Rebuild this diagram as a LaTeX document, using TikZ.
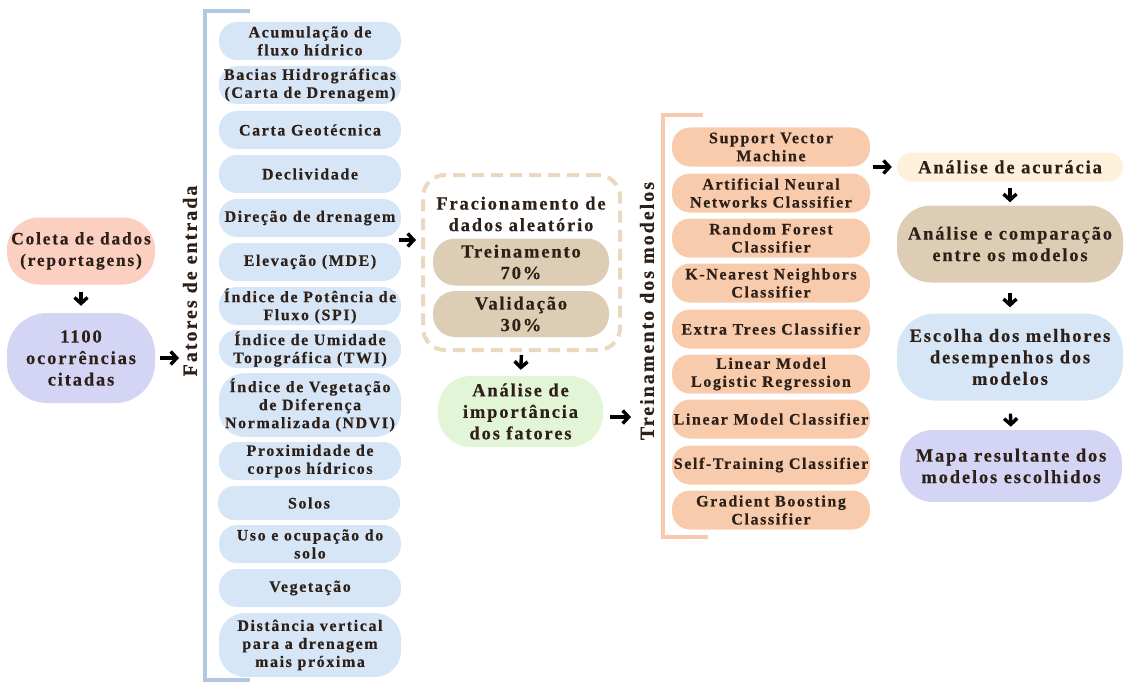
\documentclass[tikz,border=0pt]{standalone}
\usepackage{fontspec}
\setmainfont{Liberation Serif}[LetterSpace=10,BoldFeatures={FakeBold=0.4}]
\usetikzlibrary{arrows.meta}

\definecolor{ink}{RGB}{45,32,24}
\definecolor{salmon}{RGB}{251,208,193}
\definecolor{lavender}{RGB}{212,212,245}
\definecolor{skyfill}{RGB}{214,230,246}
\definecolor{skyline}{RGB}{180,199,224}
\definecolor{tanline}{RGB}{234,216,192}
\definecolor{tanfill}{RGB}{221,205,180}
\definecolor{mint}{RGB}{227,245,215}
\definecolor{peach}{RGB}{248,203,173}
\definecolor{peachline}{RGB}{248,202,172}
\definecolor{cream}{RGB}{253,241,220}

\begin{document}
\begin{tikzpicture}[x=1pt,y=-1pt,
  pill/.style={draw=none,align=center,inner sep=0pt,text=ink,
    font=\bfseries\fontsize{16}{18}\selectfont},
  bigpill/.style={pill,font=\bfseries\fontsize{18.5}{21.5}\selectfont},
  factor/.style={pill,fill=skyfill,minimum width=182,minimum height=38,rounded corners=18},
  model/.style={pill,fill=peach,minimum width=198,minimum height=39,rounded corners=18},
  label/.style={text=ink,font=\bfseries\fontsize{20}{22}\selectfont,rotate=90},
  arr/.style={draw=black,line width=3.4pt,-{Straight Barb[length=6pt,width=13pt]}},
  bracket/.style={line width=4pt}
]
\useasboundingbox (0,0) rectangle (1124,682);

% data collection column
\node[bigpill,font=\bfseries\fontsize{17.5}{21.5}\selectfont,fill=salmon,
  minimum width=148,minimum height=67,rounded corners=32] (coleta) at (81,251)
  {Coleta de dados\\(reportagens)};
\node[bigpill,fill=lavender,minimum width=148,minimum height=90,rounded corners=40] (occ) at (81,358)
  {1100\\ocorrências\\citadas};

% input factors
\draw[bracket,skyline] (250,11) -- (205,11) -- (205,680) -- (250,680);
\node[label] (fatores) at (190,281) {Fatores de entrada};
\coordinate (facin) at (179,358);
\node[factor] (f1) at (310,41) {Acumulação de\\fluxo hídrico};
\node[factor] (f2) at (310,85) {Bacias Hidrográficas\\(Carta de Drenagem)};
\node[factor] (f3) at (310,130) {Carta Geotécnica};
\node[factor] (f4) at (310,174) {Declividade};
\node[factor] (f5) at (310,218) {Direção de drenagem};
\node[factor] (f6) at (310,262) {Elevação (MDE)};
\node[factor] (f7) at (310,306) {Índice de Potência de\\Fluxo (SPI)};
\node[factor] (f8) at (310,349) {Índice de Umidade\\Topográfica (TWI)};
\node[factor,minimum height=64,rounded corners=26] (f9) at (310,405)
  {Índice de Vegetação\\de Diferença\\Normalizada (NDVI)};
\node[factor] (f10) at (310,461) {Proximidade de\\corpos hídricos};
\node[factor,minimum height=34,rounded corners=16] (f11) at (309,503) {Solos};
\node[factor] (f12) at (310,544) {Uso e ocupação do\\solo};
\node[factor] (f13) at (310,588) {Vegetação};
\node[factor,minimum height=64,rounded corners=26] (f14) at (310,645)
  {Distância vertical\\para a drenagem\\mais próxima};
\coordinate (facout) at (399,240);

% random split
\node[draw=tanline,line width=4pt,dash pattern=on 12pt off 7pt,rounded corners=22,
  minimum width=197,minimum height=175] (frac) at (521.5,262.5) {};
\node[bigpill] (fractitle) at (521,214) {Fracionamento de\\dados aleatório};
\node[bigpill,fill=tanfill,minimum width=176,minimum height=47,rounded corners=22] (train) at (521,262)
  {Treinamento\\70\%};
\node[bigpill,fill=tanfill,minimum width=176,minimum height=46,rounded corners=22] (valid) at (521,314)
  {Validação\\30\%};
\node[bigpill,fill=mint,minimum width=165,minimum height=71,rounded corners=33] (imp) at (520.5,411.5)
  {Análise de\\importância\\dos fatores};
\coordinate (tmin) at (631,417);

% model training
\draw[bracket,peachline] (703,115) -- (663,115) -- (663,537) -- (708,537);
\node[label] (treino) at (647,311) {Treinamento dos modelos};
\node[model] (m1) at (771,147) {Support Vector\\Machine};
\node[model] (m2) at (771,193) {Artificial Neural\\Networks Classifier};
\node[model] (m3) at (771,238) {Random Forest\\Classifier};
\node[model] (m4) at (771,283) {K-Nearest Neighbors\\Classifier};
\node[model] (m5) at (771,329) {Extra Trees Classifier};
\node[model] (m6) at (771,374) {Linear Model\\Logistic Regression};
\node[model] (m7) at (771,419) {Linear Model Classifier};
\node[model] (m8) at (771,465) {Self-Training Classifier};
\node[model] (m9) at (771,510) {Gradient Boosting\\Classifier};

% evaluation column
\node[bigpill,fill=cream,minimum width=226,minimum height=29,rounded corners=14] (acc) at (1010,167)
  {Análise de acurácia};
\node[bigpill,fill=tanfill,minimum width=226,minimum height=77,rounded corners=34] (comp) at (1010,244)
  {Análise e comparação\\entre os modelos};
\node[bigpill,fill=skyfill,minimum width=226,minimum height=87,rounded corners=38] (best) at (1010,357)
  {Escolha dos melhores\\desempenhos dos\\modelos};
\node[bigpill,fill=lavender,minimum width=222,minimum height=72,rounded corners=33] (mapa) at (1011,466)
  {Mapa resultante dos\\modelos escolhidos};

% connectors
\draw[arr,shorten <=7pt,shorten >=7pt] (coleta) -- (occ);
\draw[arr,shorten <=5pt] (occ.east) -- (facin);
\draw[arr,shorten >=5pt] (facout) -- (facout -| frac.west);
\draw[arr,shorten <=3pt,shorten >=6pt] (frac.south) -- (imp.north);
\draw[arr,shorten <=7pt] (imp.east |- tmin) -- (tmin);
\draw[arr,shorten <=3pt,shorten >=5pt] (m1.east |- acc) -- (acc.west);
\draw[arr,shorten <=6pt,shorten >=3pt] (acc.south) -- (comp.north);
\draw[arr,shorten <=10pt,shorten >=6pt] (comp.south) -- (best.north);
\draw[arr,shorten <=13pt,shorten >=3pt] (best.south) -- (mapa.north);
\end{tikzpicture}
\end{document}
